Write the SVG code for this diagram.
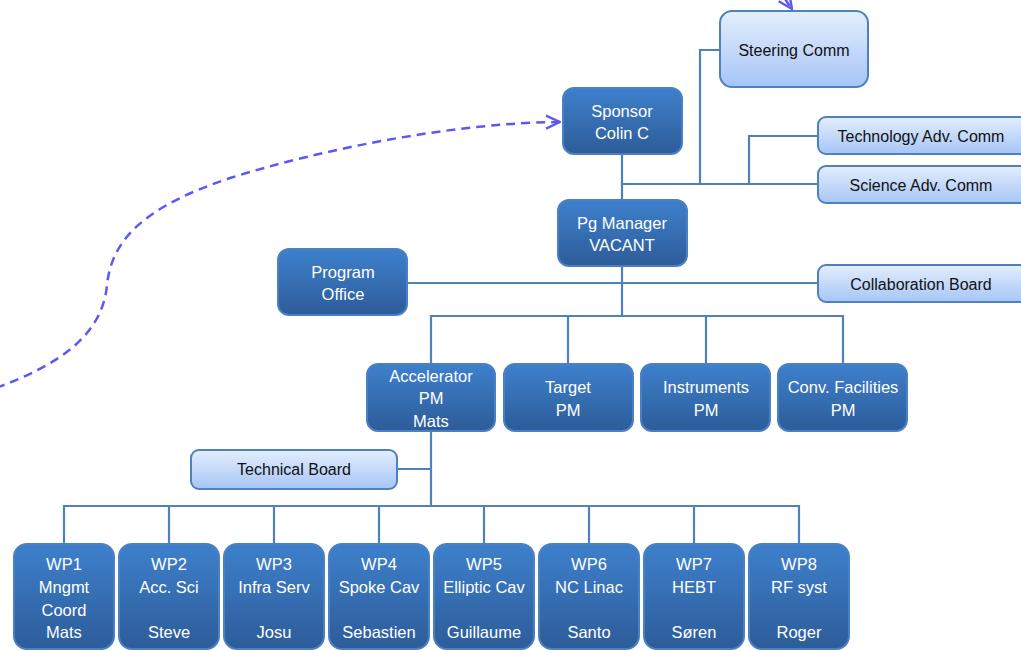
<svg xmlns="http://www.w3.org/2000/svg" width="1021" height="650" viewBox="0 0 1021 650">
<defs>
<linearGradient id="darkG" x1="0" y1="0" x2="0" y2="1">
<stop offset="0" stop-color="#3e80cc"/>
<stop offset="1" stop-color="#2d5c99"/>
</linearGradient>
<linearGradient id="lightG" x1="0" y1="0" x2="0" y2="1">
<stop offset="0" stop-color="#e4eefd"/>
<stop offset="1" stop-color="#a6c5f6"/>
</linearGradient>
<marker id="openArrow" viewBox="0 0 16 16" refX="15" refY="8" markerWidth="16" markerHeight="16" markerUnits="userSpaceOnUse" orient="auto">
<path d="M1 1.5 L15 8 L1 14.5" fill="none" stroke="#5a5af2" stroke-width="2.4"/>
</marker>
<style>
.dark rect{fill:url(#darkG);stroke:#4a80c4;stroke-width:2}
.light rect{fill:url(#lightG);stroke:#4f81bd;stroke-width:2}
.dark text{fill:#ffffff;font-family:"Liberation Sans","DejaVu Sans",sans-serif;font-size:16.5px;text-anchor:middle}
.light text{fill:#111111;font-family:"Liberation Sans","DejaVu Sans",sans-serif;font-size:16px;text-anchor:middle}
.conn{fill:none;stroke:#4f81bd;stroke-width:2.2}
.dash{fill:none;stroke:#5a5af2;stroke-width:2.5;stroke-dasharray:9 6}
</style>
</defs>
<g id="connectors">
<path class="conn" d="M622 154 V200"/>
<path class="conn" d="M622 184 H818"/>
<path class="conn" d="M700 184 V50 H720"/>
<path class="conn" d="M749 184 V136 H818"/>
<path class="conn" d="M622 266 V316"/>
<path class="conn" d="M407 283 H818"/>
<path class="conn" d="M431 364 V316 H843 V364"/>
<path class="conn" d="M568 316 V364"/>
<path class="conn" d="M706 316 V364"/>
<path class="conn" d="M431 431 V506"/>
<path class="conn" d="M397 469 H431"/>
<path class="conn" d="M64 544 V506 H799 V544" stroke-width="2.6"/>
<path class="conn" d="M169 506 V544"/>
<path class="conn" d="M274 506 V544"/>
<path class="conn" d="M379 506 V544"/>
<path class="conn" d="M484 506 V544"/>
<path class="conn" d="M589 506 V544"/>
<path class="conn" d="M694 506 V544"/>
<path class="dash" d="M-4 388 C55 366 102 338 107 285 C112 236 150 205 230 178 C320 150 450 123 560 122" marker-end="url(#openArrow)"/>
<path class="dash" d="M776 -14 L792 9" marker-end="url(#openArrow)"/>
</g>
<g id="steering" class="light"><rect x="720" y="11" width="148" height="76" rx="12"/><text x="794" y="56">Steering Comm</text></g>
<g id="sponsor" class="dark"><rect x="563" y="88" width="119" height="66" rx="11"/><text x="622" y="117">Sponsor</text><text x="622" y="139">Colin C</text></g>
<g id="techadv" class="light"><rect x="818" y="117" width="212" height="37" rx="8"/><text x="921" y="142">Technology Adv. Comm</text></g>
<g id="sciadv" class="light"><rect x="818" y="166" width="212" height="37" rx="8"/><text x="921" y="191">Science Adv. Comm</text></g>
<g id="pgmanager" class="dark"><rect x="558" y="200" width="129" height="66" rx="11"/><text x="622" y="229">Pg Manager</text><text x="622" y="251">VACANT</text></g>
<g id="progoffice" class="dark"><rect x="278" y="249" width="129" height="66" rx="11"/><text x="343" y="278">Program</text><text x="343" y="300">Office</text></g>
<g id="collab" class="light"><rect x="818" y="265" width="212" height="37" rx="8"/><text x="921" y="290">Collaboration Board</text></g>
<g id="accel" class="dark"><rect x="367" y="364" width="128" height="67" rx="11"/><text x="431" y="382">Accelerator</text><text x="431" y="404">PM</text><text x="431" y="427">Mats</text></g>
<g id="target" class="dark"><rect x="504" y="364" width="129" height="67" rx="11"/><text x="568" y="393">Target</text><text x="568" y="416">PM</text></g>
<g id="instruments" class="dark"><rect x="641" y="364" width="129" height="67" rx="11"/><text x="706" y="393">Instruments</text><text x="706" y="416">PM</text></g>
<g id="convfac" class="dark"><rect x="778" y="364" width="129" height="67" rx="11"/><text x="843" y="393">Conv. Facilities</text><text x="843" y="416">PM</text></g>
<g id="techboard" class="light"><rect x="191" y="450" width="206" height="39" rx="8"/><text x="294" y="475">Technical Board</text></g>
<g id="wp1" class="dark"><rect x="14" y="544" width="100" height="105" rx="13"/><text x="64" y="570">WP1</text><text x="64" y="593">Mngmt</text><text x="64" y="616">Coord</text><text x="64" y="638">Mats</text></g>
<g id="wp2" class="dark"><rect x="119" y="544" width="100" height="105" rx="13"/><text x="169" y="570">WP2</text><text x="169" y="593">Acc. Sci</text><text x="169" y="638">Steve</text></g>
<g id="wp3" class="dark"><rect x="224" y="544" width="100" height="105" rx="13"/><text x="274" y="570">WP3</text><text x="274" y="593">Infra Serv</text><text x="274" y="638">Josu</text></g>
<g id="wp4" class="dark"><rect x="329" y="544" width="100" height="105" rx="13"/><text x="379" y="570">WP4</text><text x="379" y="593">Spoke Cav</text><text x="379" y="638">Sebastien</text></g>
<g id="wp5" class="dark"><rect x="434" y="544" width="100" height="105" rx="13"/><text x="484" y="570">WP5</text><text x="484" y="593">Elliptic Cav</text><text x="484" y="638">Guillaume</text></g>
<g id="wp6" class="dark"><rect x="539" y="544" width="100" height="105" rx="13"/><text x="589" y="570">WP6</text><text x="589" y="593">NC Linac</text><text x="589" y="638">Santo</text></g>
<g id="wp7" class="dark"><rect x="644" y="544" width="100" height="105" rx="13"/><text x="694" y="570">WP7</text><text x="694" y="593">HEBT</text><text x="694" y="638">Søren</text></g>
<g id="wp8" class="dark"><rect x="749" y="544" width="100" height="105" rx="13"/><text x="799" y="570">WP8</text><text x="799" y="593">RF syst</text><text x="799" y="638">Roger</text></g>
</svg>
